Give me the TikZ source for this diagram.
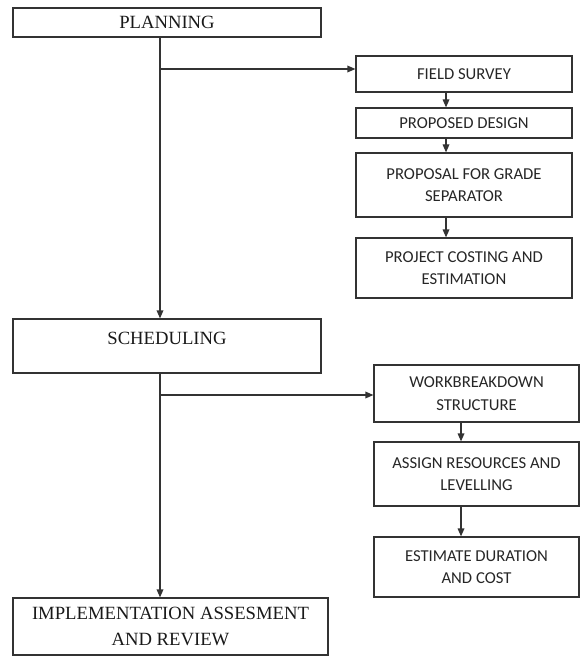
\documentclass[tikz,border=0pt]{standalone}
\usepackage{fontspec}
\setmainfont{Liberation Serif}
\newfontfamily\calibrifont{Carlito}
\usetikzlibrary{arrows.meta}

\begin{document}
\begin{tikzpicture}[x=0.75pt, y=-0.75pt,
	bigbox/.style={rectangle, draw=black!80, line width=0.9pt, inner sep=2pt, align=center, text=black!90, font=\fontsize{14}{19}\selectfont},
	smallbox/.style={rectangle, draw=black!80, line width=0.9pt, inner sep=2pt, align=center, text=black!85, font=\calibrifont\fontsize{12.5}{17}\selectfont},
	arr/.style={draw=black!80, line width=0.9pt, -{Triangle[length=6pt, width=5pt]}}]
	\useasboundingbox (0,0) rectangle (581,656);
	% main column
	\node[bigbox, minimum width=231pt, minimum height=21.75pt] at (167,22.5)(plan){PLANNING};
	\node[bigbox, minimum width=231pt, minimum height=40.5pt, text depth=12pt] at (167,346)(sched){SCHEDULING};
	\node[bigbox, minimum width=236.25pt, minimum height=42.75pt] at (170.5,626.5)(impl){IMPLEMENTATION ASSESMENT\\AND REVIEW};
	% planning steps
	\node[smallbox, minimum width=162pt, minimum height=27pt] at (464,74)(field){FIELD SURVEY};
	\node[smallbox, minimum width=162pt, minimum height=22.5pt] at (464,123)(design){PROPOSED DESIGN};
	\node[smallbox, minimum width=162pt, minimum height=48pt] at (464,185)(grade){PROPOSAL FOR GRADE\\SEPARATOR};
	\node[smallbox, minimum width=162pt, minimum height=45pt] at (464,268)(cost){PROJECT COSTING AND\\ESTIMATION};
	% scheduling steps
	\node[smallbox, minimum width=153.75pt, minimum height=42.75pt] at (476.5,393.5)(wbs){WORKBREAKDOWN\\STRUCTURE};
	\node[smallbox, minimum width=153.75pt, minimum height=48pt] at (476.5,474)(assign){ASSIGN RESOURCES AND\\LEVELLING};
	\node[smallbox, minimum width=153.75pt, minimum height=45pt] at (476.5,567)(estimate){ESTIMATE DURATION\\AND COST};
	% branch points
	\coordinate (t1) at (160,69);
	\coordinate (t2) at (160,395);
	\coordinate (r1) at (446,0);
	\coordinate (r2) at (461,0);
	\draw[arr] (plan.south -| t1) -- (sched.north -| t1);
	\draw[arr] (t1) -- (t1 -| field.west);
	\draw[arr] (sched.south -| t2) -- (impl.north -| t2);
	\draw[arr] (t2) -- (t2 -| wbs.west);
	\draw[arr] (field.south -| r1) -- (design.north -| r1);
	\draw[arr] (design.south -| r1) -- (grade.north -| r1);
	\draw[arr] (grade.south -| r1) -- (cost.north -| r1);
	\draw[arr] (wbs.south -| r2) -- (assign.north -| r2);
	\draw[arr] (assign.south -| r2) -- (estimate.north -| r2);
\end{tikzpicture}
\end{document}
